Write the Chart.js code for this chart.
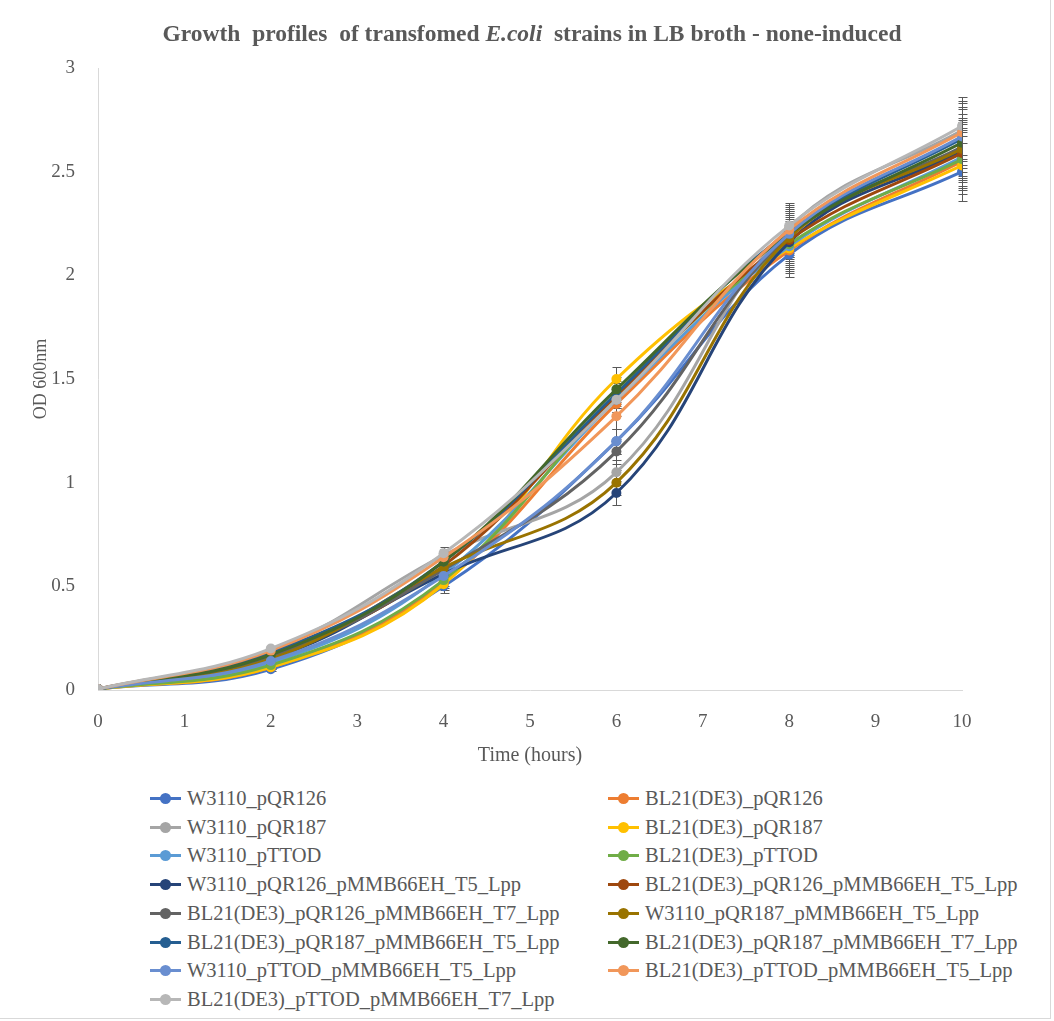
<!DOCTYPE html>
<html>
<head>
<meta charset="utf-8">
<script src="https://cdn.jsdelivr.net/npm/chart.js@4/dist/chart.umd.min.js"></script>
<style>
  body { margin: 0; background: #fff; font-family: "Liberation Serif", "Times New Roman", serif; }
  #wrap { position: relative; width: 1054px; height: 1021px; overflow: hidden; }
  #frame { position: absolute; left: -1px; top: -1px; width: 1050px; height: 1018px; border: 1px solid #d9d9d9; }
  #title { position: absolute; left: 0; width: 1064px; top: 20px; text-align: center;
           font-weight: bold; font-size: 23.5px; color: #595959; white-space: pre; }
  #chart { position: absolute; left: 0; top: 0; }
  #legend { position: absolute; left: 0; top: 784px; width: 1054px; }
  .item { position: absolute; height: 28px; font-size: 20.5px; color: #595959; line-height: 28px; white-space: nowrap; }
  .item .ln { position: absolute; left: 0; top: 13px; width: 31px; height: 3px; }
  .item .dot { position: absolute; left: 10px; top: 9px; width: 11px; height: 11px; border-radius: 50%; }
  .item span { position: absolute; left: 37px; top: 0; }
</style>
</head>
<body>
<div id="wrap">
  <div id="frame"></div>
  <canvas id="chart" width="1054" height="780"></canvas>
  <div id="title">Growth  profiles  of transfomed <i>E.coli</i>  strains in LB broth - none-induced</div>
  <div id="legend"></div>
</div>
<script>
// ---- data ----
const hours = [0, 2, 4, 6, 8, 10];

const strainNames = [
  "W3110_pQR126", "BL21(DE3)_pQR126",
  "W3110_pQR187", "BL21(DE3)_pQR187",
  "W3110_pTTOD", "BL21(DE3)_pTTOD",
  "W3110_pQR126_pMMB66EH_T5_Lpp", "BL21(DE3)_pQR126_pMMB66EH_T5_Lpp",
  "BL21(DE3)_pQR126_pMMB66EH_T7_Lpp", "W3110_pQR187_pMMB66EH_T5_Lpp",
  "BL21(DE3)_pQR187_pMMB66EH_T5_Lpp", "BL21(DE3)_pQR187_pMMB66EH_T7_Lpp",
  "W3110_pTTOD_pMMB66EH_T5_Lpp", "BL21(DE3)_pTTOD_pMMB66EH_T5_Lpp",
  "BL21(DE3)_pTTOD_pMMB66EH_T7_Lpp"
];

const w3110_pQR126          = [0.005, 0.10, 0.50, 1.20, 2.10, 2.50];
const bl21_pQR126           = [0.005, 0.11, 0.52, 1.38, 2.12, 2.55];
const w3110_pQR187          = [0.005, 0.19, 0.65, 1.05, 2.23, 2.70];
const bl21_pQR187           = [0.005, 0.11, 0.51, 1.50, 2.13, 2.53];
const w3110_pTTOD           = [0.005, 0.13, 0.56, 1.40, 2.14, 2.57];
const bl21_pTTOD            = [0.005, 0.12, 0.53, 1.42, 2.15, 2.56];
const w3110_pQR126_T5       = [0.005, 0.15, 0.56, 0.95, 2.16, 2.60];
const bl21_pQR126_T5        = [0.005, 0.17, 0.60, 1.42, 2.17, 2.59];
const bl21_pQR126_T7        = [0.005, 0.16, 0.58, 1.15, 2.19, 2.62];
const w3110_pQR187_T5       = [0.005, 0.15, 0.59, 1.00, 2.18, 2.61];
const bl21_pQR187_T5        = [0.005, 0.18, 0.62, 1.43, 2.21, 2.66];
const bl21_pQR187_T7        = [0.005, 0.17, 0.62, 1.45, 2.20, 2.64];
const w3110_pTTOD_T5        = [0.005, 0.14, 0.55, 1.20, 2.20, 2.67];
const bl21_pTTOD_T5         = [0.005, 0.19, 0.64, 1.32, 2.22, 2.69];
const bl21_pTTOD_T7         = [0.005, 0.20, 0.66, 1.40, 2.24, 2.72];

// standard deviation bars, roughly the same size for every strain at each time
const errAtHour = [0, 0.01, 0.03, 0.06, 0.11, 0.14];

const seriesValues = [
  w3110_pQR126, bl21_pQR126, w3110_pQR187, bl21_pQR187, w3110_pTTOD, bl21_pTTOD,
  w3110_pQR126_T5, bl21_pQR126_T5, bl21_pQR126_T7, w3110_pQR187_T5,
  bl21_pQR187_T5, bl21_pQR187_T7, w3110_pTTOD_T5, bl21_pTTOD_T5, bl21_pTTOD_T7
];

const colors = [
  "#4472C4", "#ED7D31", "#A5A5A5", "#FFC000", "#5B9BD5", "#70AD47",
  "#264478", "#9E480E", "#636363", "#997300", "#255E91", "#43682B",
  "#698ED0", "#F1975A", "#B7B7B7"
];

const yTicks = [0, 0.5, 1, 1.5, 2, 2.5, 3];
const xTicks = [0, 1, 2, 3, 4, 5, 6, 7, 8, 9, 10];

// ---- error bars, drawn under the lines ----
const errorBars = {
  id: "errorBars",
  beforeDatasetsDraw(chart) {
    const { ctx, scales: { x, y } } = chart;
    ctx.save();
    ctx.strokeStyle = "#595959";
    ctx.lineWidth = 1;
    seriesValues.forEach(vals => {
      vals.forEach((v, i) => {
        const e = errAtHour[i];
        if (!e) return;
        const px = Math.round(x.getPixelForValue(hours[i])) + 0.5;
        const top = Math.round(y.getPixelForValue(v + e)) + 0.5;
        const bot = Math.round(y.getPixelForValue(v - e)) + 0.5;
        ctx.beginPath();
        ctx.moveTo(px, top); ctx.lineTo(px, bot);
        ctx.moveTo(px - 4, top); ctx.lineTo(px + 5, top);
        ctx.moveTo(px - 4, bot); ctx.lineTo(px + 5, bot);
        ctx.stroke();
      });
    });
    ctx.restore();
  }
};

const tickFont = { family: "Liberation Serif", size: 19 };

new Chart(document.getElementById("chart"), {
  type: "line",
  data: {
    datasets: seriesValues.map((vals, i) => ({
      label: strainNames[i],
      data: vals.map((v, j) => ({ x: hours[j], y: v })),
      borderColor: colors[i],
      backgroundColor: colors[i],
      borderWidth: 3,
      pointRadius: 5,
      pointBorderWidth: 0,
      tension: 0.4,
      order: seriesValues.length - i,
    })),
  },
  options: {
    responsive: false,
    animation: false,
    layout: { padding: { left: 0, top: 68, right: 92, bottom: 0 } },
    plugins: { legend: { display: false }, tooltip: { enabled: false } },
    scales: {
      x: {
        type: "linear", min: 0, max: 10,
        afterBuildTicks: s => { s.ticks = xTicks.map(v => ({ value: v })); },
        afterFit: s => { s.height = 90; },
        grid: { display: false },
        border: { display: true, color: "#d9d9d9", width: 1 },
        ticks: { color: "#595959", font: tickFont, padding: 13, callback: v => String(v) },
        title: { display: true, text: "Time (hours)", color: "#595959",
                 font: { family: "Liberation Serif", size: 20 }, padding: { top: 0, bottom: 12 } },
      },
      y: {
        min: 0, max: 3,
        afterBuildTicks: s => { s.ticks = yTicks.map(v => ({ value: v })); },
        afterFit: s => { s.width = 98; },
        grid: { display: false },
        border: { display: true, color: "#d9d9d9", width: 1 },
        ticks: { color: "#595959", font: tickFont, padding: 15, callback: v => String(v) },
        title: { display: true, text: "OD 600nm", color: "#595959",
                 font: { family: "Liberation Serif", size: 18 }, padding: { top: 30, bottom: 0 } },
      },
    },
  },
  plugins: [errorBars],
});

// ---- two-column legend ----
const legend = document.getElementById("legend");
strainNames.forEach((name, i) => {
  const col = i % 2, row = Math.floor(i / 2);
  const el = document.createElement("div");
  el.className = "item";
  el.style.left = (col ? 608 : 150) + "px";
  el.style.top = (row * 28.7) + "px";
  el.innerHTML = `<div class="ln" style="background:${colors[i]}"></div>` +
    `<div class="dot" style="background:${colors[i]}"></div><span>${name}</span>`;
  legend.appendChild(el);
});
</script>
</body>
</html>
